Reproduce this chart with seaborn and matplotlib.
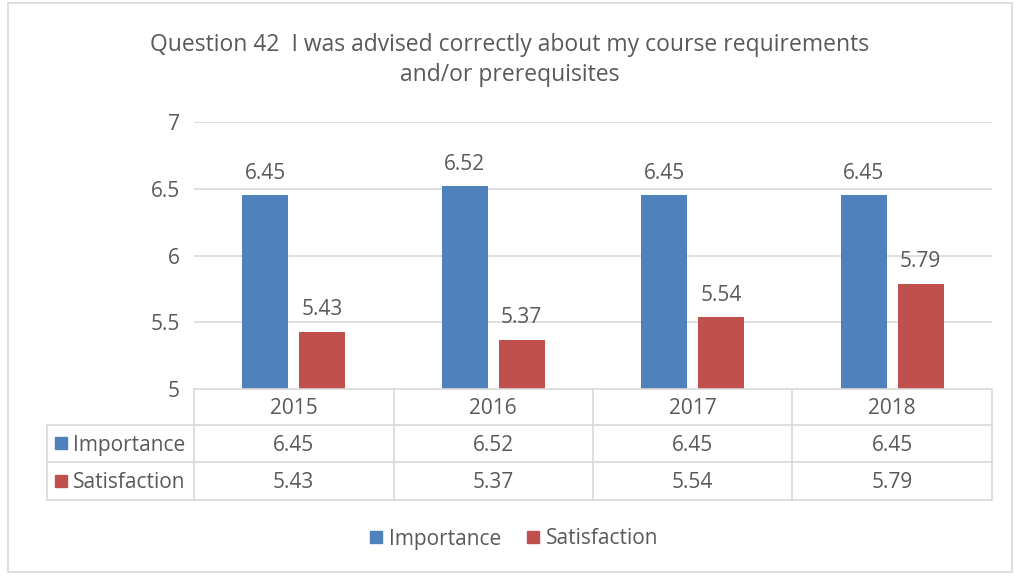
import matplotlib
matplotlib.use("Agg")
import matplotlib.pyplot as plt
import seaborn as sns
import pandas as pd
from matplotlib.lines import Line2D
from matplotlib.patches import Rectangle

years = ["2015", "2016", "2017", "2018"]
importance = [6.45, 6.52, 6.45, 6.45]
satisfaction = [5.43, 5.37, 5.54, 5.79]
series_names = ["Importance", "Satisfaction"]
colors = ["#4f81bd", "#c0504d"]
title = "Question 42  I was advised correctly about my course requirements\nand/or prerequisites"

sns.set_theme(style="white")
plt.rcParams['font.family'] = ['Open Sans', 'DejaVu Sans']
txt = "#595959"
grid_c = "#d9d9d9"
FS = 15

df = pd.DataFrame({
    "Year": years * 2,
    "Value": importance + satisfaction,
    "Series": [series_names[0]] * 4 + [series_names[1]] * 4,
})

W, H = 1020, 578
fig = plt.figure(figsize=(W / 100, H / 100), dpi=100)
fig.patch.set_facecolor("white")

def fx(x): return x / W
def fy(y): return 1 - y / H

ax = fig.add_axes([fx(194), fy(389), fx(992) - fx(194), fy(122) - fy(389)])
sns.barplot(data=df, x="Year", y="Value", hue="Series", palette=colors,
            width=0.571, gap=0.195, ax=ax, legend=False, saturation=1, linewidth=0)
ax.set_ylim(5, 7)
ax.set_xlim(-0.5, 3.5)
ax.set_yticks([5, 5.5, 6, 6.5, 7])
ax.set_yticklabels(["5", "5.5", "6", "6.5", "7"], fontsize=FS, color=txt)
ax.set_xticks([])
ax.set_xlabel("")
ax.set_ylabel("")
for s in ax.spines.values():
    s.set_visible(False)
ax.tick_params(axis="y", length=0, pad=10)
for yv in [5.5, 6, 6.5, 7]:
    ax.axhline(yv, color=grid_c, lw=1.2, zorder=0)
for c in ax.containers:
    ax.bar_label(c, fmt="%.2f", padding=8, fontsize=FS, color=txt)

# outer border
fig.add_artist(Rectangle((fx(8), fy(572)), fx(1012) - fx(8), fy(3) - fy(572),
                         transform=fig.transFigure, fill=False, ec="#d9d9d9", lw=1.2))

# title
fig.text(fx(510), fy(60), title, ha="center", va="center", fontsize=16.5,
         color=txt, linespacing=1.35)

# data table
def hline(y, x0, x1):
    fig.add_artist(Line2D([fx(x0), fx(x1)], [fy(y), fy(y)], transform=fig.transFigure,
                          color=grid_c, lw=1.2))
def vline(x, y0, y1):
    fig.add_artist(Line2D([fx(x), fx(x)], [fy(y0), fy(y1)], transform=fig.transFigure,
                          color=grid_c, lw=1.2))

hline(389, 194, 992)
hline(425, 47, 992)
hline(462, 47, 992)
hline(500, 47, 992)
for xv in [194, 393.5, 593, 792.5, 992]:
    vline(xv, 389, 500)
vline(47, 425, 500)

col_centers = [293.75, 493.25, 692.75, 892.25]
for i, yr in enumerate(years):
    fig.text(fx(col_centers[i]), fy(408.5), yr, ha="center", va="center", fontsize=FS, color=txt)
    fig.text(fx(col_centers[i]), fy(445.5), f"{importance[i]:.2f}", ha="center", va="center", fontsize=FS, color=txt)
    fig.text(fx(col_centers[i]), fy(483), f"{satisfaction[i]:.2f}", ha="center", va="center", fontsize=FS, color=txt)

for j, (name, yc) in enumerate(zip(series_names, [443, 481])):
    fig.add_artist(Rectangle((fx(55), fy(yc + 6)), fx(12), fy(0) - fy(12),
                             transform=fig.transFigure, color=colors[j]))
    fig.text(fx(73), fy(yc + 2), name, ha="left", va="center", fontsize=FS, color=txt)

# legend
for j, (name, x0) in enumerate(zip(series_names, [370, 527])):
    fig.add_artist(Rectangle((fx(x0), fy(543)), fx(12), fy(0) - fy(12),
                             transform=fig.transFigure, color=colors[j]))
    fig.text(fx(x0 + 19), fy(539), name, ha="left", va="center", fontsize=FS, color=txt)

fig.savefig("out.png", dpi=100)
